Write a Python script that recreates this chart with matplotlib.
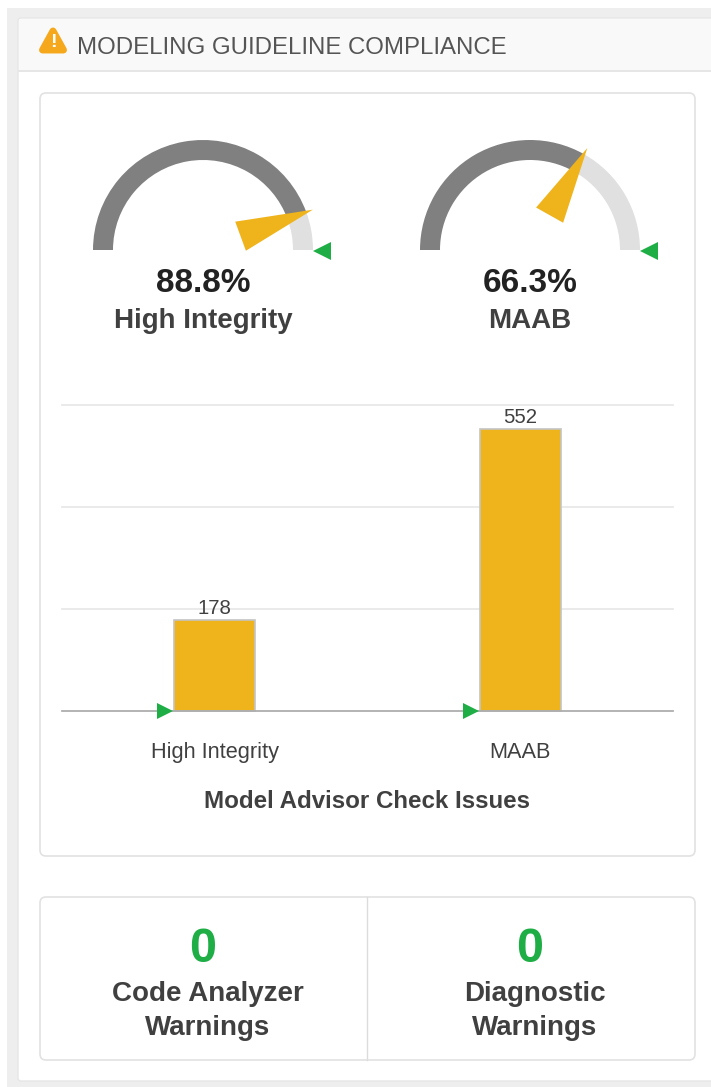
import numpy as np
import matplotlib
matplotlib.use("Agg")
import matplotlib.pyplot as plt
from matplotlib.patches import Rectangle, FancyBboxPatch, Wedge, Polygon

plt.rcParams['font.family'] = ['Liberation Sans', 'DejaVu Sans']

title = "MODELING GUIDELINE COMPLIANCE"
gauge_names = ["High Integrity", "MAAB"]
gauge_values = [88.8, 66.3]
gauge_target = 100
bar_names = ["High Integrity", "MAAB"]
bar_values = [178, 552]
bar_targets = [0, 0]
bar_yticks = [0, 200, 400, 600]
bar_title = "Model Advisor Check Issues"
kpi_values = [0, 0]
kpi_names = ["Code Analyzer\nWarnings", "Diagnostic\nWarnings"]

W, H = 711, 1087
GOLD, GREEN, DARK, LIGHT = "#EFB31C", "#1EAE45", "#808080", "#E0E0E0"
TXT = "#404040"

fig = plt.figure(figsize=(W/100, H/100), dpi=100, facecolor="white")

def px_axes(x0, y0, x1, y1, **kw):
    return fig.add_axes([x0/W, 1-y1/H, (x1-x0)/W, (y1-y0)/H], **kw)

# page chrome in pixel coordinates
bg = px_axes(0, 0, W, H)
bg.set_xlim(0, W); bg.set_ylim(H, 0); bg.axis("off")
bg.add_patch(Rectangle((7, 8), W-7, H-8, fc="#EEEEEE", ec="none"))
bg.add_patch(FancyBboxPatch((18, 18), W, 1063, boxstyle="round,pad=0,rounding_size=3",
                            fc="white", ec="#E6E6E6", lw=1))
bg.add_patch(Rectangle((19, 19), W, 51, fc="#F9F9F9", ec="none"))
bg.plot([19, W], [70.5, 70.5], color="#E6E6E6", lw=1.4)
bg.add_patch(Polygon([[53, 31], [63.5, 50], [42.5, 50]], closed=True, fc="#F5A81C",
                     ec="#F5A81C", lw=5, joinstyle="round"))
bg.text(53, 42.5, "!", color="white", fontsize=14, fontweight="bold", ha="center", va="center")
bg.text(77, 48.5, title, color="#555555", fontsize=17.3, ha="left", va="center")

for (x0, y0, x1, y1) in [(40, 93, 695, 856), (40, 897, 695, 1060)]:
    bg.add_patch(FancyBboxPatch((x0, y0), x1-x0, y1-y0, boxstyle="round,pad=0,rounding_size=6",
                                fc="white", ec="#E2E2E2", lw=1.2))
bg.plot([366.5, 366.5], [897, 1060], color="#DCDCDC", lw=1)

# gauges
R = 110
for cx, name, val in zip([203, 530], gauge_names, gauge_values):
    ax = px_axes(cx-143, 107, cx+143, 343)
    ax.set_xlim(-143, 143); ax.set_ylim(-93, 143); ax.axis("off")
    split = 180*(1-val/gauge_target)
    ax.add_patch(Wedge((0, 0), R, 0, split, width=20, fc=LIGHT, ec="none"))
    ax.add_patch(Wedge((0, 0), R, split, 180, width=20, fc=DARK, ec="none"))
    a = np.deg2rad(split)
    u = np.array([np.cos(a), np.sin(a)]); n = np.array([-u[1], u[0]])
    tip = u*117
    ax.add_patch(Polygon([tip, u*40+n*15.5, u*40-n*15.5], closed=True, fc=GOLD, ec="none", zorder=3))
    ax.plot([R+9], [-1], marker="<", ms=13, color=GREEN, mew=0, zorder=3)
    ax.text(0, -33, f"{val}%", color="#222222", fontsize=24, fontweight="bold", ha="center", va="center")
    ax.text(0, -71, name, color=TXT, fontsize=20, fontweight="bold", ha="center", va="center")

# bar chart
ax = px_axes(62, 405, 673, 711)
ax.set_facecolor("none")
x = np.arange(len(bar_values))
ax.set_xlim(-0.5, 1.5); ax.set_ylim(0, 600)
ax.set_yticks(bar_yticks)
ax.yaxis.grid(True, color="#E6E6E6", lw=1.2, clip_on=False)
ax.set_axisbelow(True)
ax.tick_params(axis="y", left=False, labelleft=False)
ax.tick_params(axis="x", length=0, pad=22, labelsize=15.7, labelcolor=TXT)
ax.set_xticks(x, bar_names)
for s in ["top", "left", "right"]:
    ax.spines[s].set_visible(False)
ax.spines["bottom"].set_color("#ABABAB"); ax.spines["bottom"].set_linewidth(1.2)
bars = ax.bar(x, bar_values, width=0.265, color=GOLD, edgecolor="#C4C4C4", linewidth=1.2, clip_on=False)
for xi, v in zip(x, bar_values):
    ax.annotate(str(v), (xi, v), xytext=(0, 1.5), textcoords="offset points", ha="center",
                va="bottom", fontsize=14.7, color=TXT, clip_on=False)
ax.plot(x-0.162, bar_targets, ls="none", marker=">", ms=12, color=GREEN, mew=0, clip_on=False, zorder=4)
bg.text(367.5, 801, bar_title, color=TXT, fontsize=17.35, fontweight="bold", ha="center", va="center")

# KPI tiles
for cx, v in zip([203, 530], kpi_values):
    bg.text(cx, 949, str(v), color=GREEN, fontsize=35, fontweight="bold", ha="center", va="center")
for cx, name in zip([208, 535], kpi_names):
    a, b = name.split("\n")
    bg.text(cx, 994, a, color=TXT, fontsize=20, fontweight="bold", ha="center", va="center")
    bg.text(cx, 1028, b, color=TXT, fontsize=20, fontweight="bold", ha="center", va="center")

fig.savefig("out.png", dpi=100)
